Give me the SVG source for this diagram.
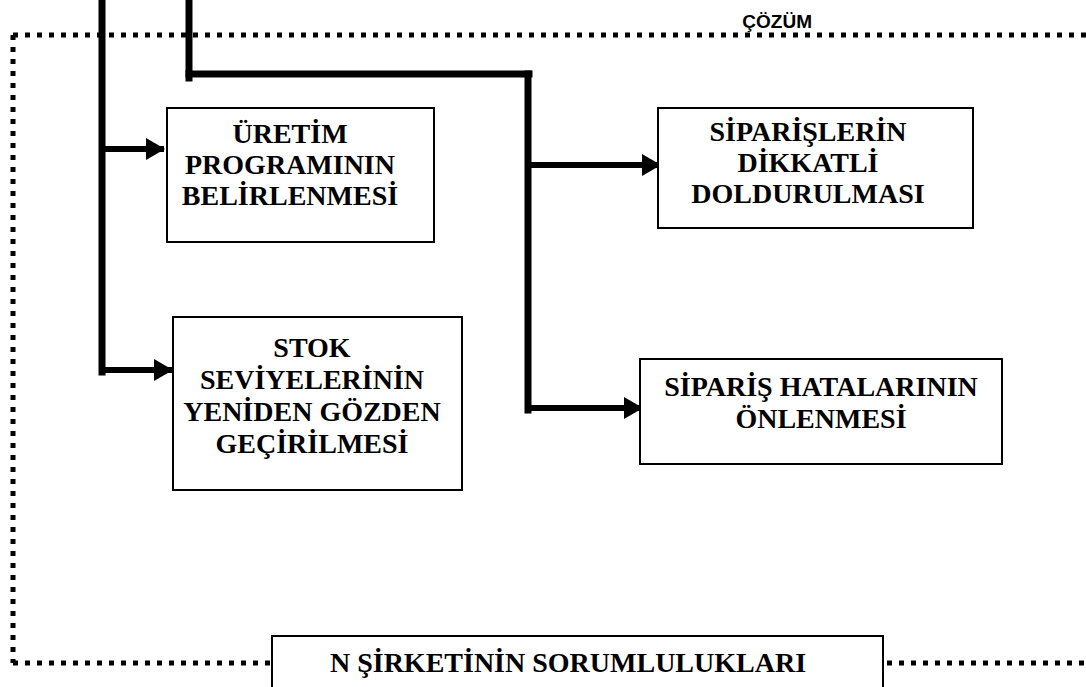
<svg xmlns="http://www.w3.org/2000/svg" width="1086" height="687" viewBox="0 0 1086 687">
  <defs>
    <style>
      .box { fill: #ffffff; stroke: #000000; stroke-width: 2; }
      .lbl { font-family: "Liberation Serif", "Times New Roman", serif; font-weight: bold; font-size: 28px; fill: #000000; text-anchor: middle; }
      .title { font-family: "Liberation Sans", Arial, sans-serif; font-weight: bold; font-size: 19px; fill: #000000; text-anchor: end; }
      .dots { fill: none; stroke: #000000; stroke-width: 5; stroke-dasharray: 5 7; }
      .trunk { fill: none; stroke: #000000; stroke-width: 7; stroke-linecap: square; }
      .arrow { fill: none; stroke: #000000; stroke-width: 6; }
    </style>
    <marker id="head" markerUnits="userSpaceOnUse" markerWidth="20" markerHeight="22" refX="18" refY="11" orient="auto">
      <path d="M0,0 L19,11 L0,22 Z" fill="#000000"/>
    </marker>
  </defs>

  <rect width="1086" height="687" fill="#ffffff"/>

  <!-- dotted frame around the solution area -->
  <g id="frame">
    <path class="dots" d="M13,35 H1086"/>
    <path class="dots" d="M13,35 V663"/>
    <path class="dots" d="M13,663 H272"/>
    <path class="dots" d="M887,663 H1086"/>
    <text class="title" x="812" y="28">ÇÖZÜM</text>
  </g>

  <!-- connectors -->
  <g id="connectors">
    <path class="trunk" d="M102,0 V372"/>
    <path class="trunk" d="M189,0 V78"/>
    <path class="trunk" d="M189,74 H529"/>
    <path class="trunk" d="M528,74 V410"/>
    <path class="arrow" d="M102,149 H164" marker-end="url(#head)"/>
    <path class="arrow" d="M102,370 H172" marker-end="url(#head)"/>
    <path class="arrow" d="M528,165 H660" marker-end="url(#head)"/>
    <path class="arrow" d="M528,408 H642" marker-end="url(#head)"/>
  </g>

  <g id="uretim">
    <rect class="box" x="167" y="108" width="267" height="134"/>
    <text class="lbl" x="290" y="143">ÜRETİM</text>
    <text class="lbl" x="290" y="174">PROGRAMININ</text>
    <text class="lbl" x="290" y="205">BELİRLENMESİ</text>
  </g>

  <g id="siparislerin">
    <rect class="box" x="658" y="108" width="315" height="120"/>
    <text class="lbl" x="808" y="141">SİPARİŞLERİN</text>
    <text class="lbl" x="808" y="172">DİKKATLİ</text>
    <text class="lbl" x="808" y="203">DOLDURULMASI</text>
  </g>

  <g id="stok">
    <rect class="box" x="173" y="317" width="289" height="173"/>
    <text class="lbl" x="312" y="357">STOK</text>
    <text class="lbl" x="312" y="389">SEVİYELERİNİN</text>
    <text class="lbl" x="312" y="421">YENİDEN GÖZDEN</text>
    <text class="lbl" x="312" y="453">GEÇİRİLMESİ</text>
  </g>

  <g id="hatalar">
    <rect class="box" x="640" y="359" width="362" height="105"/>
    <text class="lbl" x="821" y="396">SİPARİŞ HATALARININ</text>
    <text class="lbl" x="821" y="428">ÖNLENMESİ</text>
  </g>

  <g id="sorumluluklar">
    <rect class="box" x="272" y="636" width="611" height="70"/>
    <text class="lbl" x="568" y="672">N ŞİRKETİNİN SORUMLULUKLARI</text>
  </g>
</svg>
